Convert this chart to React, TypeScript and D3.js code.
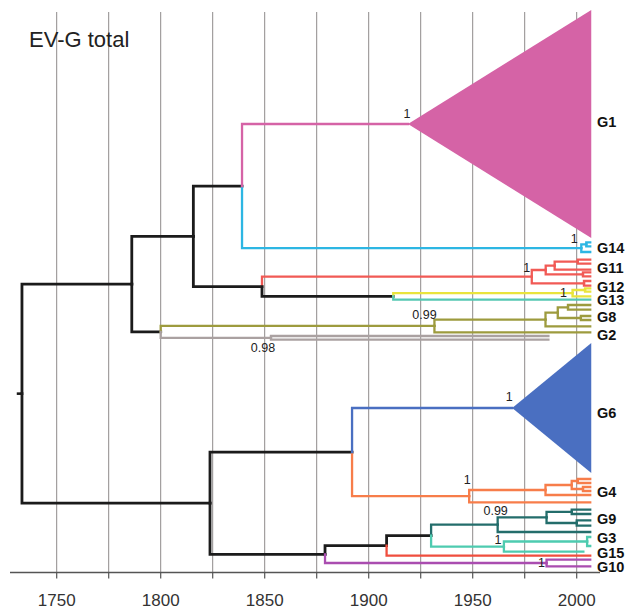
import React from "react";
import * as d3 from "d3";

const W = 627;
const H = 611;

// internal nodes of the dated tree: node age in years, clade group
const nodes = [
  { id: "root", parent: "", year: 1733.3, group: "base" },
  { id: "A", parent: "root", year: 1786.1, group: "base" },
  { id: "B", parent: "A", year: 1815.7, group: "base" },
  { id: "C", parent: "B", year: 1839.1, group: "base" },
  { id: "D", parent: "B", year: 1848.7, group: "base" },
  { id: "E", parent: "D", year: 1978.4, group: "G11" },
  { id: "E1", parent: "E", year: 1985.1, group: "G11" },
  { id: "E2", parent: "E1", year: 1989.4, group: "G11" },
  { id: "E4", parent: "E2", year: 2000.5, group: "G11" },
  { id: "E3", parent: "E1", year: 2003.0, group: "G11" },
  { id: "E5", parent: "E", year: 2003.5, group: "G11" },
  { id: "F", parent: "D", year: 1911.8, group: "base" },
  { id: "G12n", parent: "F", year: 1998.0, group: "G12" },
  { id: "G12a", parent: "G12n", year: 2004.0, group: "G12" },
  { id: "G14n", parent: "C", year: 2002.2, group: "G14" },
  { id: "G14a", parent: "G14n", year: 2004.6, group: "G14" },
  { id: "H", parent: "A", year: 1800.0, group: "base" },
  { id: "I", parent: "H", year: 1931.6, group: "G8" },
  { id: "I1", parent: "I", year: 1985.0, group: "G8" },
  { id: "I2", parent: "I1", year: 1990.9, group: "G8" },
  { id: "I3", parent: "I2", year: 1995.8, group: "G8" },
  { id: "I4", parent: "I2", year: 2002.0, group: "G8" },
  { id: "J", parent: "H", year: 1853.0, group: "G2" },
  { id: "K", parent: "root", year: 1823.7, group: "base" },
  { id: "L", parent: "K", year: 1892.0, group: "base" },
  { id: "N", parent: "L", year: 1948.3, group: "G4" },
  { id: "N1", parent: "N", year: 1985.0, group: "G4" },
  { id: "N2", parent: "N1", year: 1997.6, group: "G4" },
  { id: "N3", parent: "N2", year: 2000.5, group: "G4" },
  { id: "N4", parent: "N2", year: 2003.0, group: "G4" },
  { id: "M", parent: "K", year: 1879.0, group: "base" },
  { id: "O", parent: "M", year: 1908.6, group: "base" },
  { id: "P", parent: "O", year: 1930.0, group: "base" },
  { id: "Q", parent: "P", year: 1962.0, group: "G9" },
  { id: "Q1", parent: "Q", year: 1985.5, group: "G9" },
  { id: "Q2", parent: "Q1", year: 1997.6, group: "G9" },
  { id: "Q3", parent: "Q1", year: 2000.0, group: "G9" },
  { id: "R", parent: "P", year: 1965.0, group: "G3" },
  { id: "R1", parent: "R", year: 2005.0, group: "G3" },
  { id: "G10n", parent: "M", year: 1985.5, group: "G10" },
];

// collapsed clades (drawn as triangles): apex age, tip rows spanned
const clades = [
  { id: "G1", parent: "C", year: 1918.9, top: 0, bottom: 57, group: "G1" },
  { id: "G6", parent: "L", year: 1969.0, top: 83.25, bottom: 115.75, group: "G6" },
];

// sampled tips: parent node, tip row, sampling year
const TIP_YEAR = 2006.5;
const CLADE_END = 2007;
const tips = [
  { parent: "G14a", row: 58.1, group: "G14" },
  { parent: "G14a", row: 59.1, group: "G14" },
  { parent: "G14n", row: 60.5, group: "G14" },
  { parent: "E4", row: 62.4, group: "G11" },
  { parent: "E4", row: 63.4, group: "G11" },
  { parent: "E2", row: 64.9, group: "G11" },
  { parent: "E3", row: 65.6, group: "G11" },
  { parent: "E3", row: 66.6, group: "G11" },
  { parent: "E5", row: 67.75, group: "G11" },
  { parent: "E5", row: 68.9, group: "G11" },
  { parent: "G12a", row: 69.6, group: "G12" },
  { parent: "G12a", row: 70.4, group: "G12" },
  { parent: "G12n", row: 71.6, group: "G12" },
  { parent: "F", row: 72.4, group: "G13" },
  { parent: "I3", row: 73.75, group: "G8" },
  { parent: "I3", row: 74.9, group: "G8" },
  { parent: "I4", row: 76.5, group: "G8" },
  { parent: "I4", row: 77.5, group: "G8" },
  { parent: "I1", row: 79.1, group: "G8" },
  { parent: "I", row: 80.6, group: "G8" },
  { parent: "J", row: 81.5, group: "G2", year: 1986.4 },
  { parent: "J", row: 82.4, group: "G2", year: 1986.4 },
  { parent: "N3", row: 117.25, group: "G4" },
  { parent: "N3", row: 118.25, group: "G4" },
  { parent: "N4", row: 119.25, group: "G4" },
  { parent: "N4", row: 120.25, group: "G4" },
  { parent: "N1", row: 121.25, group: "G4" },
  { parent: "N", row: 123.1, group: "G4" },
  { parent: "Q2", row: 124.9, group: "G9" },
  { parent: "Q2", row: 126, group: "G9" },
  { parent: "Q3", row: 127.6, group: "G9" },
  { parent: "Q3", row: 128.9, group: "G9" },
  { parent: "Q", row: 130.5, group: "G9" },
  { parent: "R1", row: 131.75, group: "G3" },
  { parent: "R1", row: 134, group: "G3" },
  { parent: "R", row: 135.4, group: "G3", year: 2003.2 },
  { parent: "O", row: 136.4, group: "G15" },
  { parent: "G10n", row: 137.4, group: "G10" },
  { parent: "G10n", row: 139.1, group: "G10" },
];

const groupColors = {
  base: "#1b1b1b",
  G1: "#d563a6",
  G14: "#2db6e3",
  G11: "#f15a55",
  G12: "#e9e43c",
  G13: "#55c7b3",
  G8: "#9d9b3e",
  G2: "#aaa1a1",
  G6: "#4a6fc1",
  G4: "#f77d4a",
  G9: "#236d6b",
  G3: "#4ecbb0",
  G15: "#f04e3e",
  G10: "#aa4db0",
};

const groupLabels = [
  { name: "G1", row: 27.9 },
  { name: "G14", row: 59.4 },
  { name: "G11", row: 64.6 },
  { name: "G12", row: 69.3 },
  { name: "G13", row: 72.5 },
  { name: "G8", row: 76.7 },
  { name: "G2", row: 81.25 },
  { name: "G6", row: 100.75 },
  { name: "G4", row: 120.4 },
  { name: "G9", row: 127.3 },
  { name: "G3", row: 132.1 },
  { name: "G15", row: 135.7 },
  { name: "G10", row: 139.2 },
];

// posterior support values
const supports = [
  { node: "G1", text: "1" },
  { node: "G14n", text: "1" },
  { node: "E", text: "1" },
  { node: "G12n", text: "1" },
  { node: "I", text: "0.99" },
  { node: "J", text: "0.98" },
  { node: "G6", text: "1" },
  { node: "N", text: "1" },
  { node: "Q", text: "0.99" },
  { node: "R", text: "1" },
  { node: "G10n", text: "1" },
];

const gridYears = d3.range(1750, 2001, 25);
const labelYears = d3.range(1750, 2001, 50);
const ROOT_START = 1730.8;

// where each support label sits relative to its node (px)
const supportOffset = {
  G1: [-1, -10.5], G14n: [-7, -9], E: [-5, -8.3], G12n: [-9, 0],
  I: [-10, -11], J: [-8, 10.5], G6: [-3, -11.3], N: [-2, -16],
  Q: [-2, -14], R: [-6, -6.6], G10n: [-5, 0],
};

const FONT = "'Liberation Sans', Arial, Helvetica, sans-serif";

export default function App() {
  const x = d3.scaleLinear().domain([1750, 2000]).range([56.7, 576.7]);
  const y = d3.scaleLinear().domain([0, 140]).range([10, 570]);
  const axisY = 572.5;

  const flat = [
    ...nodes.map(n => ({ ...n, kind: "node" })),
    ...clades.map(c => ({ ...c, kind: "clade" })),
    ...tips.map((t, i) => ({ id: "t" + i, ...t, year: t.year ?? TIP_YEAR, kind: "tip" })),
  ];
  const root = d3.stratify()
    .id(d => d.id)
    .parentId(d => d.parent || null)(flat);

  root.eachAfter(n => {
    const d = n.data;
    if (d.kind === "tip") n.py = y(d.row);
    else if (d.kind === "clade") n.py = y((d.top + d.bottom) / 2);
    else {
      const ys = n.children.map(c => c.py);
      n.py = (d3.min(ys) + d3.max(ys)) / 2;
    }
    n.px = x(d.year);
  });

  const byId = new Map();
  root.each(n => byId.set(n.data.id, n));

  const edges = root.descendants().filter(n => n.parent);

  return (
    <svg width={W} height={H} style={{ position: "absolute", left: 0, top: 0, background: "#fff" }}>
      {gridYears.map(yr => (
        <line key={"g" + yr} x1={x(yr)} x2={x(yr)} y1={12} y2={axisY}
          stroke="#8e8a8a" strokeWidth={1} />
      ))}

      <text x={29} y={47} fontFamily={FONT} fontSize={22} fill="#222">EV-G total</text>

      <line x1={x(ROOT_START)} x2={root.px} y1={root.py} y2={root.py}
        stroke={groupColors.base} strokeWidth={2.6} />

      {edges.map((n, i) => {
        const base = n.data.group === "base";
        return (
          <path key={"e" + i}
            d={`M${n.parent.px},${n.parent.py}V${n.py}H${n.px}`}
            fill="none"
            stroke={groupColors[n.data.group]}
            strokeWidth={base ? 2.8 : 2.3}
            strokeLinecap="square" />
        );
      })}

      {clades.map(c => {
        const n = byId.get(c.id);
        const xe = x(CLADE_END);
        return (
          <path key={"c" + c.id}
            d={`M${n.px},${n.py}L${xe},${y(c.top)}L${xe},${y(c.bottom)}Z`}
            fill={groupColors[c.group]} />
        );
      })}

      {supports.map(s => {
        const n = byId.get(s.node);
        const [dx, dy] = supportOffset[s.node];
        return (
          <text key={"s" + s.node} x={n.px + dx} y={n.py + dy}
            textAnchor="middle" dominantBaseline="central"
            fontFamily={FONT} fontSize={12.5} fill="#222">{s.text}</text>
        );
      })}

      {groupLabels.map(g => (
        <text key={"l" + g.name} x={597} y={y(g.row)} dominantBaseline="central"
          fontFamily={FONT} fontSize={14.5} fontWeight="bold" fill="#111">{g.name}</text>
      ))}

      <line x1={10} x2={600} y1={axisY} y2={axisY} stroke="#555" strokeWidth={1.6} />
      {gridYears.map(yr => (
        <line key={"t" + yr} x1={x(yr)} x2={x(yr)} y1={axisY} y2={axisY + 6}
          stroke="#555" strokeWidth={1.2} />
      ))}
      {labelYears.map(yr => (
        <text key={"lab" + yr} x={x(yr)} y={606} textAnchor="middle"
          fontFamily={FONT} fontSize={17} fill="#333">{yr}</text>
      ))}
    </svg>
  );
}
